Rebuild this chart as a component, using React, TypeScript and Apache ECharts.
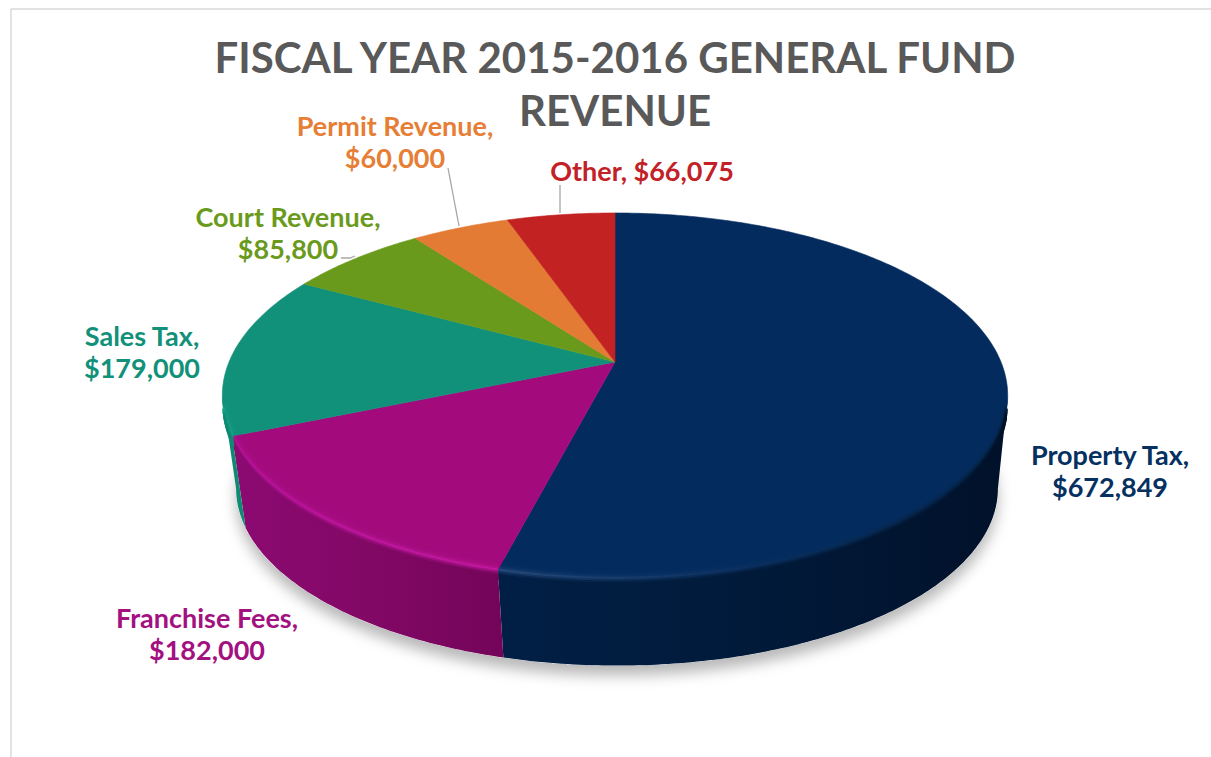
import React, { useEffect, useRef } from "react";
import * as echarts from "echarts";

const titleText = "FISCAL YEAR 2015-2016 GENERAL FUND\nREVENUE";
const categories = ["Property Tax", "Franchise Fees", "Sales Tax", "Court Revenue", "Permit Revenue", "Other"];
const revenue = [672849, 182000, 179000, 85800, 60000, 66075];
const topColors = ["#032B5E", "#A30B7D", "#12917A", "#6A9A1C", "#E47B34", "#C32222"];
const labelColors = ["#05305F", "#A3107F", "#12917A", "#6A9A1C", "#E77E35", "#C22128"];
const labelCentres: number[][] = [[1110, 470], [207, 633], [142, 351], [288, 232], [395, 141], [642, 170]];
const singleLine = [false, false, false, false, false, true];
const leaders: number[][][] = [[], [], [], [[341, 258], [350, 258], [355, 256]], [[448, 168], [459, 226]], [[560, 185], [560, 213]]];
// shading: [highlight, side colour] at the left, middle and right of each slice's front arc
const shades: string[][][] = [
  [["#24497A", "#011F45"], ["#0A2F5F", "#011A3A"], ["#02203F", "#01112A"]],
  [["#B8129A", "#8C0A72"], ["#BE169E", "#820866"], ["#C2189F", "#730559"]],
  [["#14A78A", "#0E8A72"], ["#14A78A", "#0E8A72"], ["#14A78A", "#0E8A72"]],
  [["#6A9A1C", "#5A8A14"], ["#6A9A1C", "#5A8A14"], ["#6A9A1C", "#5A8A14"]],
  [["#E47B34", "#C06020"], ["#E47B34", "#C06020"], ["#E47B34", "#C06020"]],
  [["#C32222", "#A01818"], ["#C32222", "#A01818"], ["#C32222", "#A01818"]],
];

const FONT = "Lato";
const total = revenue.reduce((a, b) => a + b, 0);
const deg = Math.PI / 180;
const CX = 615, CY = 362, A = 386, B = 176.4, P = 0.1837;
const DROP = 94, SHRINK = 0.97;
const SIL_R = Math.acos(-P) / deg; // silhouette angle on the right
const SIL_L = 360 - SIL_R;

const top = (t: number) => {
  const u = Math.sin(t * deg), v = -Math.cos(t * deg), w = 1 - P * v;
  return [CX + (A * u) / w, CY + (B * v) / w];
};
const bottom = (t: number) => {
  const u = Math.sin(t * deg), v = -Math.cos(t * deg), w = 1 - P * v;
  return [CX + 2 + (SHRINK * A * u) / w, CY + DROP + (SHRINK * B * v) / w];
};
const arc = (fn: (t: number) => number[], a: number, b: number) => {
  const out: number[][] = [];
  const n = Math.max(1, Math.ceil(Math.abs(b - a) / 0.75));
  for (let i = 0; i <= n; i++) out.push(fn(a + ((b - a) * i) / n));
  return out;
};
const hex = (c: string) => [1, 3, 5].map((i) => parseInt(c.slice(i, i + 2), 16));
const mix = (a: string, b: string, f: number) => {
  const x = hex(a), y = hex(b);
  return "#" + x.map((v, i) => Math.round(v + (y[i] - v) * f).toString(16).padStart(2, "0")).join("");
};

const renderSlice = (params: any, api: any) => {
  const i = params.dataIndex;
  const before = revenue.slice(0, i).reduce((a, b) => a + b, 0);
  const a0 = (before / total) * 360;
  const a1 = a0 + (api.value(0) / total) * 360;
  const color = topColors[i];
  const children: any[] = [];
  const s0 = Math.max(a0, SIL_R), s1 = Math.min(a1, SIL_L);
  const hasSide = s1 > s0;
  if (hasSide) {
    const rim = arc(top, s0, s1);
    const xs = rim.map((p) => p[0]).concat(arc(bottom, s0, s1).map((p) => p[0]));
    const xa = Math.min(...xs), xb = Math.max(...xs);
    const sideFill = new echarts.graphic.LinearGradient(
      xa, 0, xb, 0,
      shades[i].map((s, k) => ({ offset: k / 2, color: s[1] })),
      true
    );
    children.push({
      type: "polygon",
      shape: { points: rim.concat(arc(bottom, s1, s0)) },
      style: { fill: sideFill },
    });
  }
  children.push({
    type: "polygon",
    shape: { points: [[CX, CY]].concat(arc(top, a0, a1)) },
    style: { fill: color, stroke: color, lineWidth: 0.6 },
  });
  if (hasSide) {
    const b0 = s0 === SIL_R ? s0 + 4 : s0;
    const b1 = s1 === SIL_L ? s1 - 4 : s1;
    const xs = arc(top, b0, b1).map((p) => p[0]);
    const xa = Math.min(...xs), xb = Math.max(...xs);
    for (let k = -5; k <= 5; k++) {
      const t = k / 5;
      const dy = t * 10;
      const pts = arc(
        (th) => {
          const p = top(th);
          if (dy <= 0) return [CX + (p[0] - CX) * (1 + dy / 800), p[1] + dy];
          const q = bottom(th);
          const f = dy / DROP;
          return [p[0] + (q[0] - p[0]) * f, p[1] + (q[1] - p[1]) * f];
        },
        b0,
        b1
      );
      const stops = shades[i].map((s, n) => {
        const hl = s[0], side = s[1];
        const c = t < 0 ? mix(color, hl, Math.pow(1 + t, 4)) : mix(hl, side, Math.min(1, t * 2));
        return { offset: n / 2, color: c };
      });
      children.push({
        type: "polyline",
        shape: { points: pts },
        style: {
          fill: "none",
          lineWidth: 2.6,
          stroke: new echarts.graphic.LinearGradient(xa, 0, xb, 0, stops, true),
        },
      });
    }
  }
  return { type: "group", children };
};

const renderShadow = () => ({
  type: "polygon",
  shape: { points: arc(bottom, 60, 300) },
  style: {
    fill: "#ffffff",
    shadowBlur: 14,
    shadowColor: "rgba(0,0,0,0.28)",
    shadowOffsetY: 10,
  },
});

const renderLabel = (params: any, api: any) => {
  const i = params.dataIndex;
  const amount = "$" + api.value(0).toLocaleString("en-US");
  const text = categories[i] + "," + (singleLine[i] ? " " : "\n") + amount;
  const children: any[] = [
    {
      type: "text",
      x: labelCentres[i][0],
      y: labelCentres[i][1],
      style: {
        text,
        fill: labelColors[i],
        fontFamily: FONT,
        fontWeight: "bold",
        fontSize: 27,
        lineHeight: 32,
        align: "center",
        verticalAlign: "middle",
      },
    },
  ];
  if (leaders[i].length)
    children.push({
      type: "polyline",
      shape: { points: leaders[i] },
      style: { fill: "none", stroke: "#A6A6A6", lineWidth: 1.3 },
    });
  return { type: "group", children };
};

export default function App() {
  const ref = useRef<HTMLDivElement>(null);
  useEffect(() => {
    const chart = echarts.init(ref.current!, null, { renderer: "svg" });
    chart.setOption({
      animation: false,
      backgroundColor: "#ffffff",
      title: {
        text: titleText,
        left: 615,
        top: 30,
        padding: 0,
        textAlign: "center",
        textStyle: { fontFamily: FONT, fontSize: 42, fontWeight: "bold", color: "#595959", lineHeight: 53 },
      },
      graphic: [
        { type: "line", shape: { x1: 11, y1: 9, x2: 1211, y2: 9 }, style: { stroke: "#D9D9D9", lineWidth: 1.5 } },
        { type: "line", shape: { x1: 11, y1: 9, x2: 11, y2: 757 }, style: { stroke: "#D9D9D9", lineWidth: 1.5 } },
      ],
      series: [
        { type: "custom", coordinateSystem: "none", silent: true, z: 1, data: [0], renderItem: renderShadow },
        { type: "custom", coordinateSystem: "none", silent: true, z: 2, data: revenue, renderItem: renderSlice },
        { type: "custom", coordinateSystem: "none", silent: true, z: 3, data: revenue, renderItem: renderLabel },
      ],
    });
    return () => chart.dispose();
  }, []);
  return <div ref={ref} style={{ position: "fixed", left: 0, top: 0, width: 1211, height: 757 }} />;
}
